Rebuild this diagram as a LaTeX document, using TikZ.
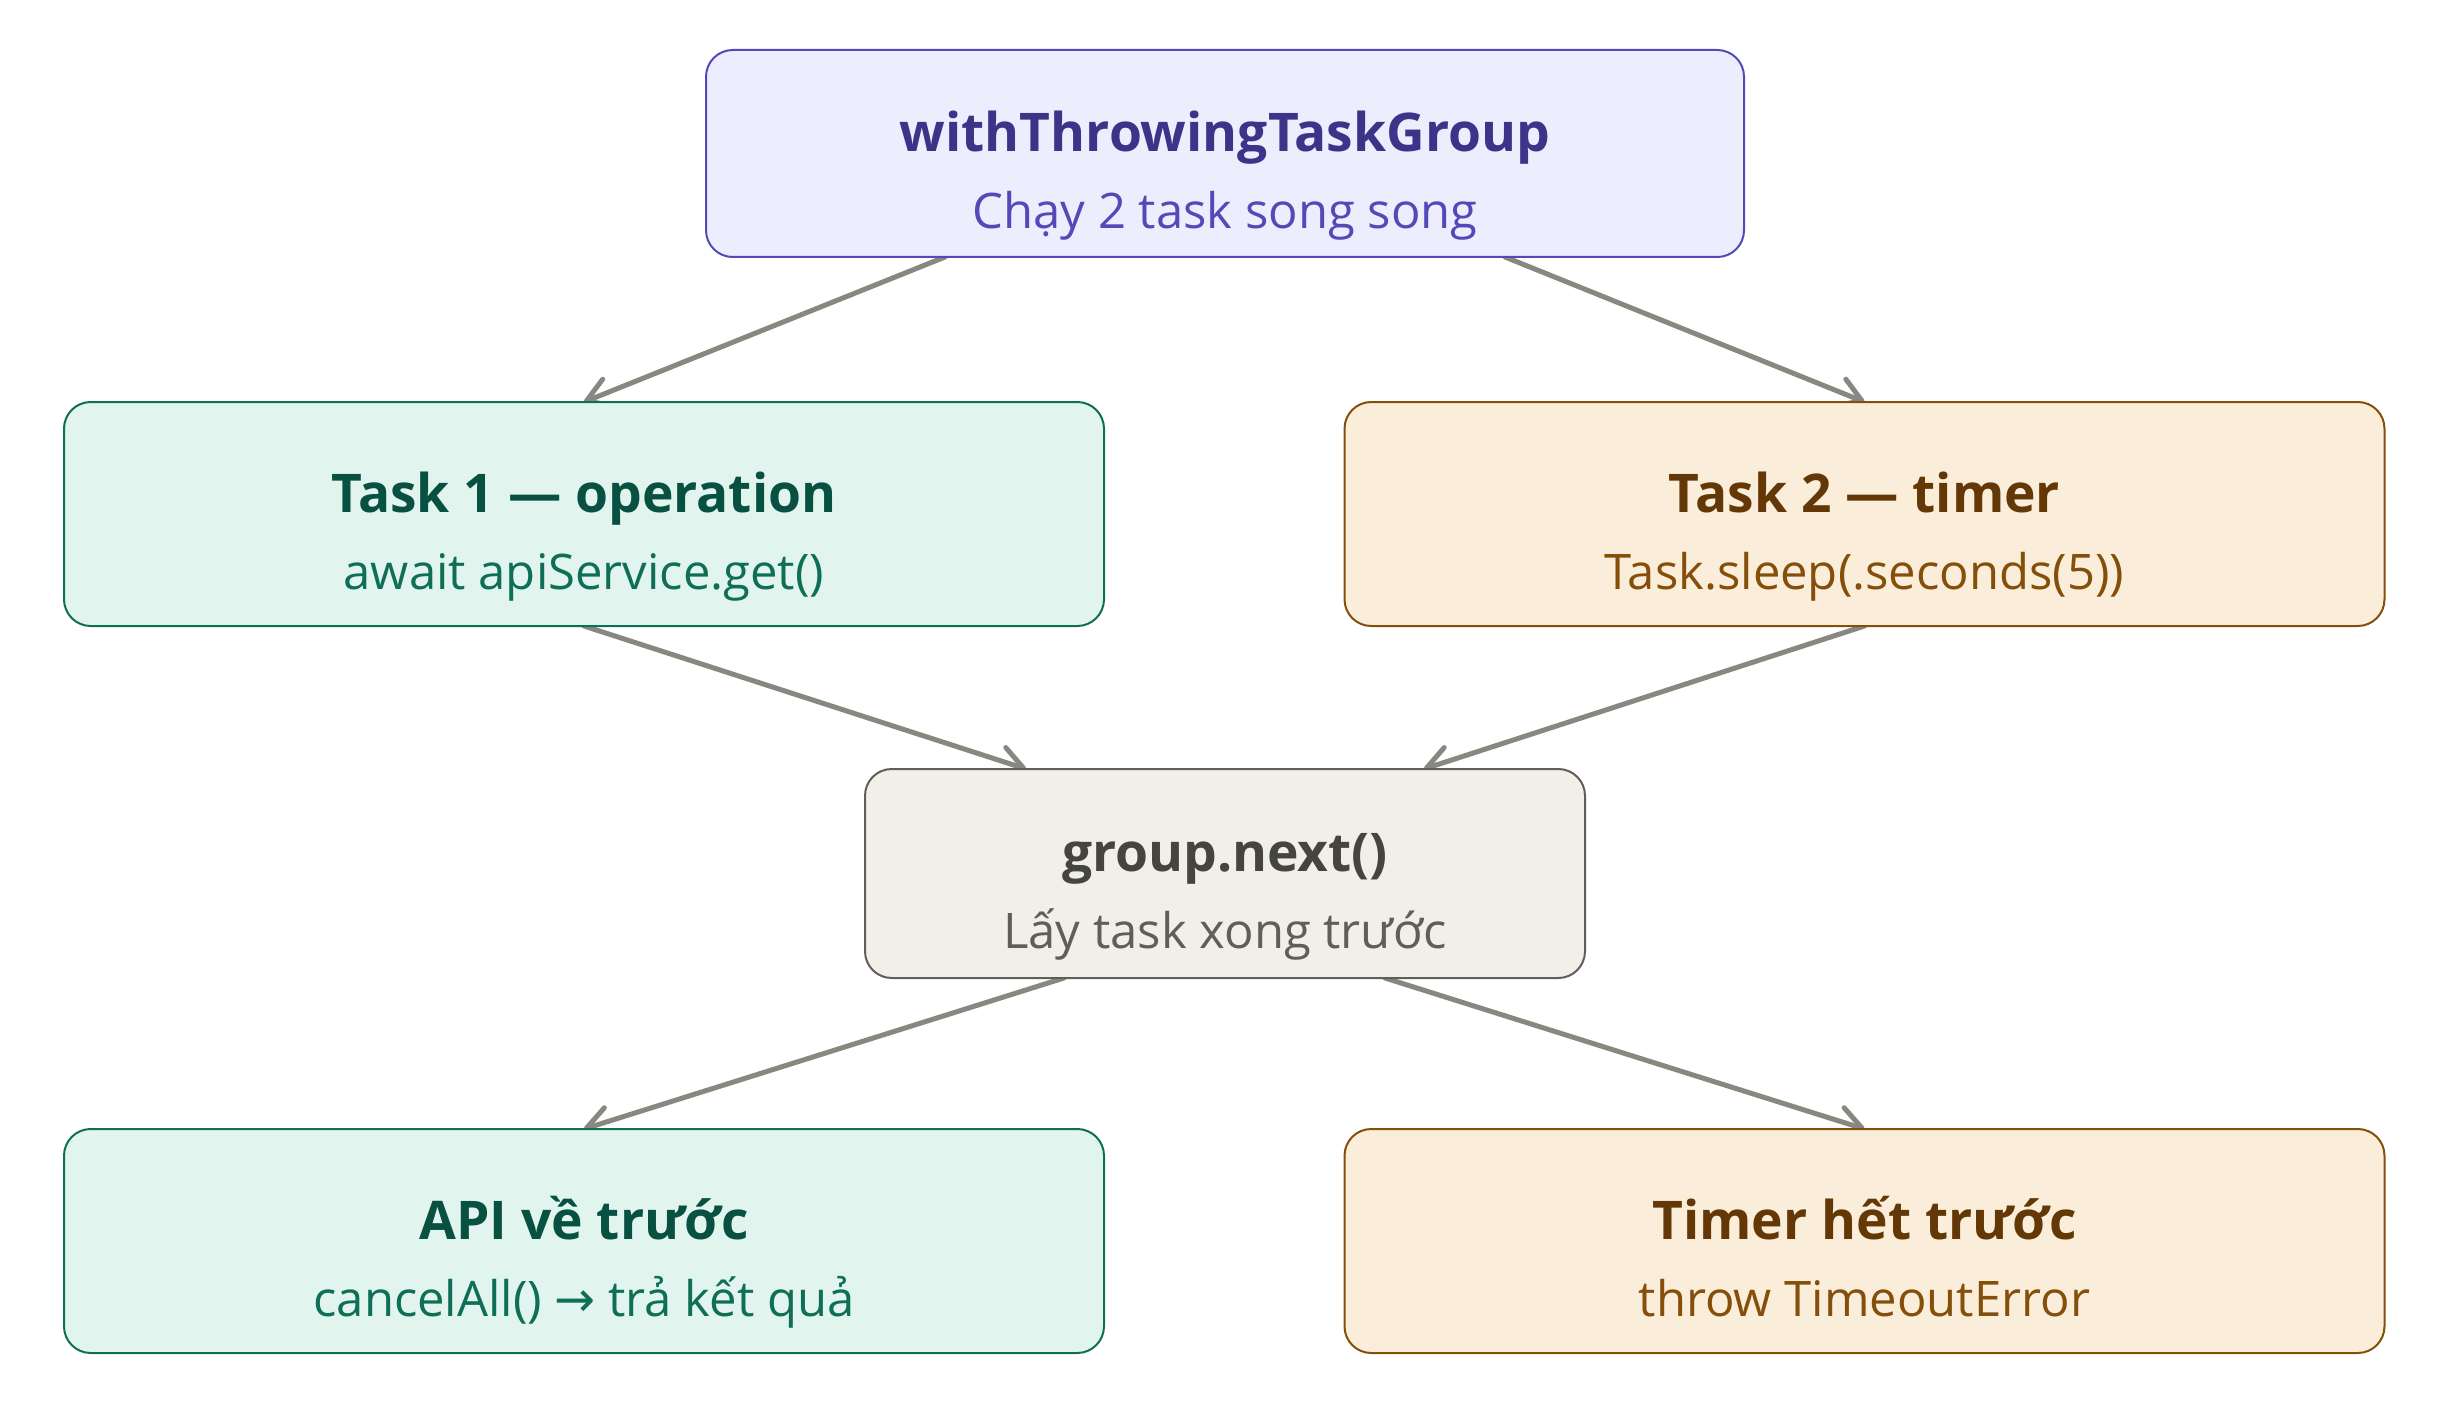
\documentclass[tikz,border=0pt]{standalone}
\usepackage{fontspec}
\setmainfont{Open Sans}
\newfontfamily\symfont{DejaVu Sans}
\usetikzlibrary{arrows.meta,backgrounds,calc}
\definecolor{purfill}{HTML}{EEEDFE}
\definecolor{purline}{HTML}{534AB7}
\definecolor{purdark}{HTML}{3C3489}
\definecolor{tealfill}{HTML}{E1F5EE}
\definecolor{tealline}{HTML}{0F6E56}
\definecolor{tealdark}{HTML}{085041}
\definecolor{ambfill}{HTML}{FAEEDA}
\definecolor{ambline}{HTML}{854F0B}
\definecolor{ambdark}{HTML}{633806}
\definecolor{grayfill}{HTML}{F1EFE8}
\definecolor{grayline}{HTML}{5F5E5A}
\definecolor{graydark}{HTML}{444441}
\definecolor{arrowcol}{HTML}{888780}
\tikzset{
  box/.style={draw, line width=0.6pt, rounded corners=8pt, inner sep=0pt, outer sep=0pt},
  widebox/.style={box, minimum width=312pt, minimum height=67.2pt},
  purbox/.style={box, fill=purfill, draw=purline},
  tealbox/.style={widebox, fill=tealfill, draw=tealline},
  ambbox/.style={widebox, fill=ambfill, draw=ambline},
  graybox/.style={box, fill=grayfill, draw=grayline},
  ttl/.style={anchor=base, inner sep=0pt, font=\fontsize{16pt}{20pt}\selectfont\bfseries},
  sub/.style={anchor=base, inner sep=0pt, font=\fontsize{14.7pt}{18pt}\selectfont},
  conn/.style={draw=arrowcol, line width=1.5pt, line cap=round, line join=round,
    -{Straight Barb[length=7pt,width=8.5pt,line cap=round,line join=round]}},
}
\begin{document}
\begin{tikzpicture}[x=0.3pt,y=-0.3pt]
\useasboundingbox (0,0) rectangle (2453,1404);
% boxes
\node[purbox, minimum width=311.4pt, minimum height=62.1pt] (top) at (1225,153.5) {};
\node[tealbox] (t1) at (584,514) {};
\node[ambbox] (t2) at (1864.5,514) {};
\node[graybox, minimum width=216pt, minimum height=62.7pt] (grp) at (1225,873.5) {};
\node[tealbox] (api) at (584,1241) {};
\node[ambbox] (tmr) at (1864.5,1241) {};
% texts
\node[ttl, text=purdark] (topT) at (1225,151.5) {withThrowingTaskGroup};
\node[sub, text=purline] (topS) at (1225,228.5) {Chạy 2 task song song};
\node[ttl, text=tealdark] (t1T) at (584,512) {Task 1 — operation};
\node[sub, text=tealline] (t1S) at (584,589) {await apiService.get()};
\node[ttl, text=ambdark] (t2T) at (1864.5,512) {Task 2 — timer};
\node[sub, text=ambline] (t2S) at (1864.5,589) {Task.sleep(.seconds(5))};
\node[ttl, text=graydark] (grpT) at (1225,871.5) {group.next()};
\node[sub, text=grayline] (grpS) at (1225,948.5) {Lấy task xong trước};
\node[ttl, text=tealdark] (apiT) at (584,1239) {API về trước};
\node[sub, text=tealline] (apiS) at (584,1316) {cancelAll() {\symfont →} trả kết quả};
\node[ttl, text=ambdark] (tmrT) at (1864.5,1239) {Timer hết trước};
\node[sub, text=ambline] (tmrS) at (1864.5,1316) {throw TimeoutError};
% connectors
\begin{pgfonlayer}{background}
\path[conn] ($(top.south)+(-280,0)$) -- (t1.north);
\path[conn] ($(top.south)+(280,0)$) -- (t2.north);
\path[conn] (t1.south) -- ($(grp.north)+(-199,0)$);
\path[conn] (t2.south) -- ($(grp.north)+(199,0)$);
\path[conn] ($(grp.south)+(-161,0)$) -- (api.north);
\path[conn] ($(grp.south)+(160,0)$) -- (tmr.north);
\end{pgfonlayer}
\end{tikzpicture}
\end{document}
